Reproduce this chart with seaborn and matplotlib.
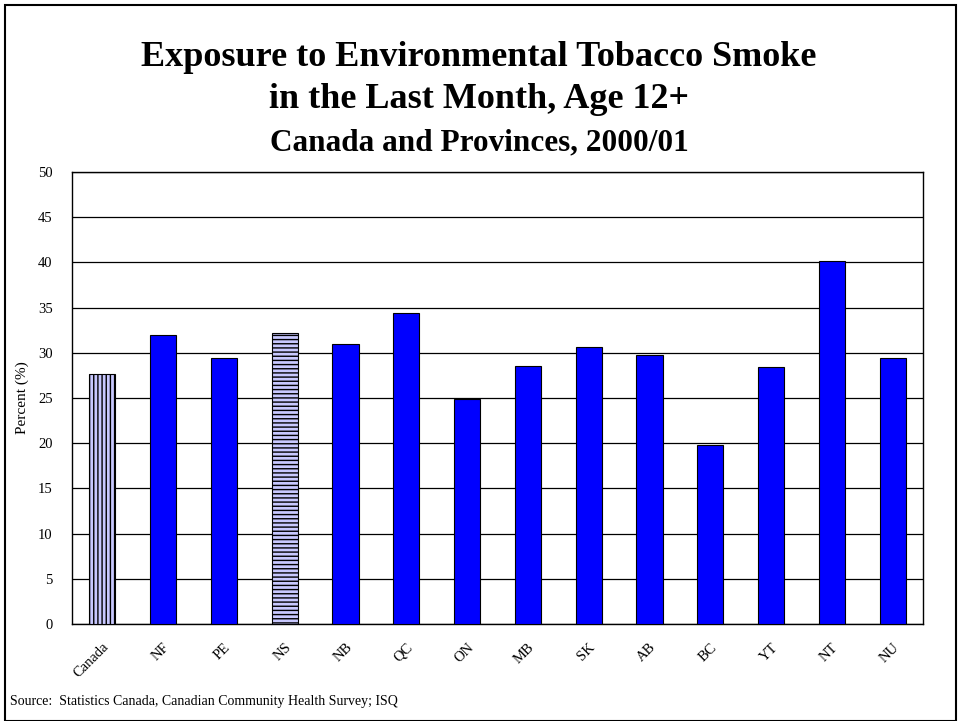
import matplotlib
matplotlib.use("Agg")
import matplotlib.pyplot as plt
import seaborn as sns
import pandas as pd
from matplotlib.patches import Rectangle

regions = ["Canada", "NF", "PE", "NS", "NB", "QC", "ON", "MB", "SK", "AB", "BC", "YT", "NT", "NU"]
percent = [27.7, 32.0, 29.4, 32.2, 31.0, 34.4, 24.9, 28.5, 30.6, 29.8, 19.8, 28.4, 40.2, 29.4]
hatches = ["||||", "", "", "----", "", "", "", "", "", "", "", "", "", ""]

df = pd.DataFrame({"region": regions, "percent": percent})

sns.set_theme(style="white")
plt.rcParams["font.family"] = ["Liberation Serif", "DejaVu Serif"]
plt.rcParams["text.color"] = "black"
plt.rcParams["axes.labelcolor"] = "black"
plt.rcParams["xtick.color"] = "black"
plt.rcParams["ytick.color"] = "black"
plt.rcParams["hatch.color"] = "#0000ff"
plt.rcParams["hatch.linewidth"] = 1.0

fig = plt.figure(figsize=(9.58, 7.21), dpi=100)
ax = fig.add_axes([72 / 958, 1 - 624 / 721, 851 / 958, 452 / 721])

sns.barplot(data=df, x="region", y="percent", color="#0000ff", width=0.43,
            edgecolor="black", linewidth=0.8, saturation=1, ax=ax, zorder=3)

# Canada and NS get the light hatched fill
for patch, h in zip(ax.patches, hatches):
    if h:
        patch.set_facecolor("#c8c8ff")
        patch.set_hatch(h)

ax.set_ylim(0, 50)
ax.set_yticks(range(0, 51, 5))
ax.set_xlim(-0.5, len(regions) - 0.5)
ax.yaxis.grid(True, color="black", linewidth=0.9)
ax.set_axisbelow(True)
for s in ax.spines.values():
    s.set_color("black")
    s.set_linewidth(1.0)

ax.set_xlabel("")
ax.set_ylabel("Percent (%)", fontsize=11, labelpad=6)
ax.tick_params(axis="y", labelsize=10.5, pad=8, left=False)
ax.tick_params(axis="x", labelsize=10.5, bottom=False, pad=6)
plt.setp(ax.get_xticklabels(), rotation=45, ha="right", rotation_mode="anchor")

fig.text(0.5, 1 - 66 / 721, "Exposure to Environmental Tobacco Smoke",
         ha="center", va="baseline", fontsize=26, fontweight="bold")
fig.text(0.5, 1 - 108 / 721, "in the Last Month, Age 12+",
         ha="center", va="baseline", fontsize=26, fontweight="bold")
fig.text(0.5, 1 - 150 / 721, "Canada and Provinces, 2000/01",
         ha="center", va="baseline", fontsize=22.5, fontweight="bold")
fig.text(10 / 958, 1 - 702 / 721, "Source:  Statistics Canada, Canadian Community Health Survey; ISQ",
         ha="left", va="center", fontsize=10)

fig.patches.append(Rectangle((5 / 958, 0), 1 - 5 / 958 - 2 / 958, 1 - 5 / 721,
                             transform=fig.transFigure, fill=False,
                             edgecolor="black", linewidth=1.5))

fig.savefig("out.png", dpi=100)
